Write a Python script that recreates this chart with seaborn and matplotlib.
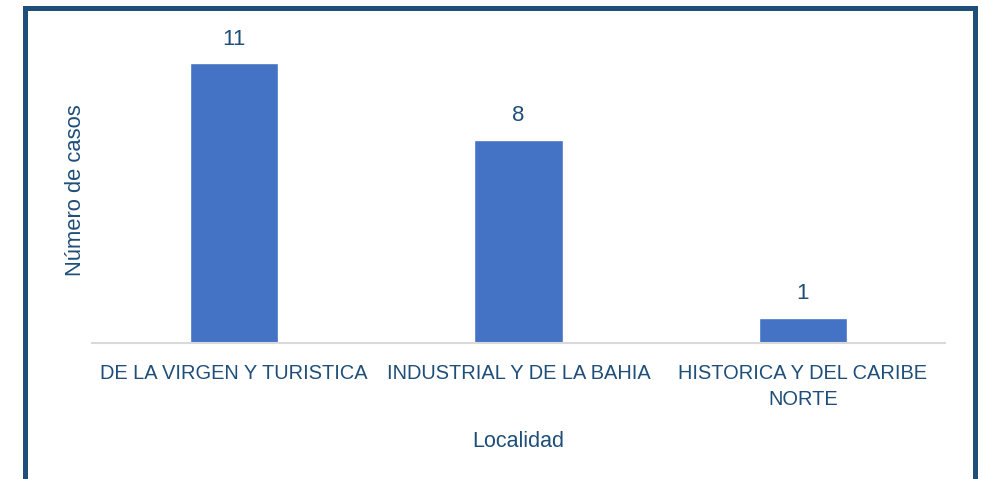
import matplotlib
matplotlib.use("Agg")
import matplotlib.pyplot as plt
import matplotlib.patches as mpatches
import seaborn as sns
import pandas as pd

categories = ["DE LA VIRGEN Y TURISTICA", "INDUSTRIAL Y DE LA BAHIA", "HISTORICA Y DEL CARIBE\nNORTE"]
values = [11, 8, 1]
x_label = "Localidad"
y_label = "Número de casos"

text_color = "#1F4E79"
bar_color = "#4472C4"

sns.set_theme(style="white")
plt.rcParams['font.family'] = ['Liberation Sans', 'DejaVu Sans']

W, H = 982, 479
fig = plt.figure(figsize=(W / 100, H / 100), dpi=100)
ax = fig.add_axes([92 / W, (H - 343) / H, (945 - 92) / W, (343 - 38) / H])

df = pd.DataFrame({"Localidad": categories, "casos": values})
sns.barplot(data=df, x="Localidad", y="casos", color=bar_color, saturation=1,
            width=0.31, ax=ax)

ax.set_ylim(0, 12)
ax.set_xlim(-0.5, len(categories) - 0.5)
for c in ax.containers:
    ax.bar_label(c, padding=10, fontsize=16, color=text_color)

for s in ["top", "right", "left"]:
    ax.spines[s].set_visible(False)
ax.spines["bottom"].set_color("#D9D9D9")
ax.spines["bottom"].set_linewidth(1.5)
ax.set_yticks([])
ax.tick_params(axis="x", length=0, pad=15, labelsize=14.4, labelcolor=text_color)
for t in ax.get_xticklabels():
    t.set_horizontalalignment("center")
    t.set_multialignment("center")
    t.set_linespacing(1.45)
ax.set_xlabel(x_label, fontsize=15.5, color=text_color, labelpad=16)
ax.set_ylabel(y_label, fontsize=15.8, color=text_color, labelpad=4)

frame = mpatches.Rectangle((24.5 / W, -0.2), (974.5 - 24.5) / W, 0.2 + (H - 8.5) / H,
                           transform=fig.transFigure, fill=False,
                           edgecolor="#1F4E79", linewidth=3.6, clip_on=False)
fig.patches.append(frame)

fig.savefig("out.png", dpi=100)
